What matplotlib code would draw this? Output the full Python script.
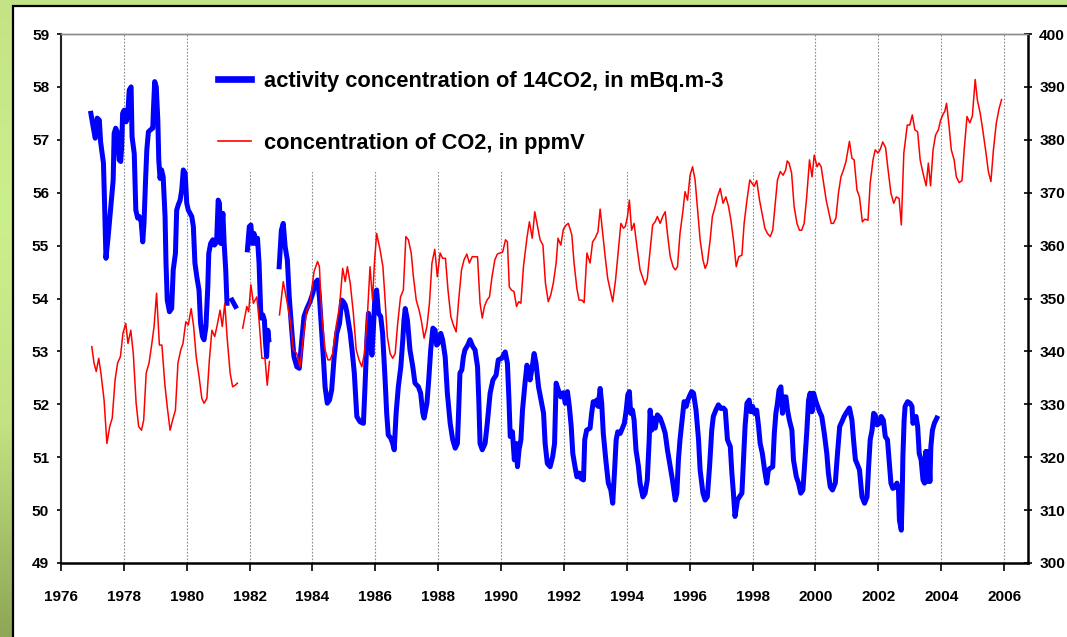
import numpy as np
import matplotlib
matplotlib.use('Agg')
import matplotlib.pyplot as plt
from matplotlib import font_manager
from matplotlib.patches import Rectangle
from matplotlib.colors import LinearSegmentedColormap

nan = np.nan

# 14CO2 activity concentration (mBq.m-3). nan = gap in the record
c14_year = [
    1976.95, 1977.03, 1977.09, 1977.15, 1977.22, 1977.26, 1977.35, 1977.38, 1977.43, 1977.50,
    1977.61, 1977.66, 1977.69, 1977.74, 1977.79, 1977.85, 1977.90, 1977.93, 1977.96, 1978.01,
    1978.07, 1978.12, 1978.17, 1978.23, 1978.26, 1978.33, 1978.38, 1978.44, 1978.49, 1978.55,
    1978.60, 1978.64, 1978.69, 1978.73, 1978.78, 1978.85, 1978.92, 1978.94, 1978.98, 1979.03,
    1979.08, 1979.11, 1979.15, 1979.20, 1979.25, 1979.31, 1979.34, 1979.38, 1979.45, 1979.52,
    1979.57, 1979.64, 1979.68, 1979.73, 1979.79, 1979.84, 1979.89, 1979.95, 1980.00, 1980.05,
    1980.16, 1980.21, 1980.26, 1980.32, 1980.39, 1980.44, 1980.50, 1980.55, 1980.61, 1980.67,
    1980.70, 1980.76, 1980.83, 1980.88, 1980.95, 1981.00, 1981.04, 1981.08, 1981.15, 1981.19,
    1981.24, 1981.28, 1981.36, 1981.44, 1981.55, 1981.70,
    1981.93, 1981.99, 1982.04, 1982.09, 1982.14, 1982.19, 1982.25, 1982.30, 1982.33, 1982.36,
    1982.42, 1982.47, 1982.50, 1982.54, 1982.58, 1982.61, 1982.80,
    1982.94, 1983.01, 1983.07, 1983.13, 1983.20, 1983.26, 1983.34, 1983.41, 1983.50, 1983.58,
    1983.66, 1983.73, 1983.82, 1983.92, 1984.01, 1984.08, 1984.16, 1984.22, 1984.29, 1984.35,
    1984.40, 1984.47, 1984.54, 1984.61, 1984.69, 1984.77, 1984.86, 1984.93, 1984.98, 1985.04,
    1985.09, 1985.20, 1985.27, 1985.33, 1985.41, 1985.51, 1985.62, 1985.67, 1985.73, 1985.78,
    1985.83, 1985.89, 1985.94, 1985.99, 1986.04, 1986.10, 1986.17, 1986.23, 1986.31, 1986.36,
    1986.41, 1986.49, 1986.55, 1986.60, 1986.66, 1986.73, 1986.81, 1986.87, 1986.91, 1986.95,
    1987.02, 1987.10, 1987.19, 1987.26, 1987.37, 1987.44, 1987.51, 1987.55, 1987.64, 1987.69,
    1987.76, 1987.83, 1987.90, 1987.95, 1988.00, 1988.08, 1988.14, 1988.22, 1988.29, 1988.38,
    1988.46, 1988.54, 1988.61, 1988.65, 1988.69, 1988.75, 1988.80, 1988.85, 1988.94, 1989.01,
    1989.10, 1989.17, 1989.25, 1989.29, 1989.33, 1989.40, 1989.49, 1989.56, 1989.65, 1989.74,
    1989.84, 1989.91, 1990.02, 1990.13, 1990.20, 1990.25, 1990.29, 1990.36, 1990.42, 1990.48,
    1990.52, 1990.57, 1990.63, 1990.68, 1990.76, 1990.82, 1990.88, 1990.92, 1990.99, 1991.05,
    1991.11, 1991.19, 1991.26, 1991.35, 1991.40, 1991.47, 1991.56, 1991.64, 1991.70, 1991.75,
    1991.82, 1991.90, 1991.98, 1992.04, 1992.11, 1992.17, 1992.23, 1992.28, 1992.35, 1992.41,
    1992.49, 1992.54, 1992.62, 1992.66, 1992.72, 1992.83, 1992.88, 1992.93, 1992.99, 1993.04,
    1993.09, 1993.15, 1993.20, 1993.25, 1993.33, 1993.41, 1993.49, 1993.55, 1993.61, 1993.66,
    1993.71, 1993.79, 1993.86, 1993.92, 1993.98, 1994.03, 1994.08, 1994.12, 1994.18, 1994.23,
    1994.29, 1994.37, 1994.42, 1994.51, 1994.58, 1994.65, 1994.71, 1994.74, 1994.79, 1994.84,
    1994.90, 1994.97, 1995.06, 1995.14, 1995.22, 1995.29, 1995.38, 1995.45, 1995.54, 1995.59,
    1995.64, 1995.69, 1995.77, 1995.82, 1995.89, 1995.94, 1996.01, 1996.06, 1996.12, 1996.20,
    1996.28, 1996.33, 1996.42, 1996.49, 1996.56, 1996.63, 1996.70, 1996.75, 1996.83, 1996.91,
    1996.99, 1997.07, 1997.13, 1997.20, 1997.29, 1997.34, 1997.39, 1997.44, 1997.52, 1997.58,
    1997.66, 1997.71, 1997.76, 1997.82, 1997.89, 1997.94, 1998.00, 1998.06, 1998.13, 1998.19,
    1998.24, 1998.31, 1998.38, 1998.45, 1998.50, 1998.56, 1998.64, 1998.69, 1998.74, 1998.79,
    1998.84, 1998.90, 1998.95, 1999.00, 1999.06, 1999.11, 1999.17, 1999.25, 1999.30, 1999.39,
    1999.46, 1999.53, 1999.60, 1999.65, 1999.72, 1999.78, 1999.83, 1999.89, 1999.94, 2000.00,
    2000.05, 2000.13, 2000.20, 2000.28, 2000.36, 2000.41, 2000.47, 2000.54, 2000.63, 2000.70,
    2000.77, 2000.84, 2000.91, 2001.00, 2001.08, 2001.16, 2001.21, 2001.27, 2001.32, 2001.40,
    2001.48, 2001.56, 2001.64, 2001.69, 2001.74, 2001.80, 2001.85, 2001.90, 2001.96, 2002.03,
    2002.09, 2002.16, 2002.22, 2002.29, 2002.34, 2002.40, 2002.46, 2002.54, 2002.59, 2002.64,
    2002.67, 2002.73, 2002.76, 2002.78, 2002.82, 2002.85, 2002.93, 2003.01, 2003.07, 2003.10,
    2003.15, 2003.20, 2003.25, 2003.30, 2003.36, 2003.42, 2003.47, 2003.51, 2003.55, 2003.60,
    2003.64, 2003.67, 2003.72, 2003.78, 2003.86,
]
c14_act = [
    57.50, 57.22, 57.03, 57.41, 57.37, 56.96, 56.56, 55.92, 54.76, 55.17,
    55.92, 56.24, 57.12, 57.22, 57.15, 56.62, 56.59, 56.87, 57.50, 57.56,
    57.34, 57.44, 57.94, 58.00, 57.06, 56.74, 55.67, 55.52, 55.55, 55.45,
    55.07, 55.42, 56.24, 56.81, 57.15, 57.19, 57.22, 57.56, 58.10, 58.00,
    57.37, 56.62, 56.27, 56.43, 56.30, 55.55, 54.67, 53.97, 53.75, 53.81,
    54.54, 54.85, 55.67, 55.77, 55.86, 56.05, 56.43, 56.37, 55.80, 55.67,
    55.55, 55.36, 54.67, 54.41, 54.16, 53.53, 53.28, 53.22, 53.47, 54.22,
    54.85, 55.04, 55.11, 55.01, 55.07, 55.86, 55.80, 55.04, 55.61, 55.04,
    54.54, 53.91, nan, 53.97, 53.85, nan,
    54.92, 55.36, 55.39, 55.04, 55.23, 55.04, 55.14, 54.67, 54.16, 53.63,
    53.69, 53.59, 53.22, 52.90, 53.40, 53.22, nan,
    54.60, 55.29, 55.42, 54.98, 54.73, 54.03, 53.40, 52.90, 52.71, 52.68,
    53.22, 53.66, 53.81, 53.94, 54.10, 54.29, 54.35, 54.03, 53.40, 52.84,
    52.33, 52.02, 52.08, 52.27, 52.90, 53.34, 53.53, 53.97, 53.94, 53.88,
    53.75, 53.34, 52.96, 52.59, 51.77, 51.67, 51.64, 52.33, 53.22, 53.72,
    53.53, 52.93, 53.47, 54.10, 54.16, 53.72, 53.66, 53.34, 52.46, 51.83,
    51.42, 51.36, 51.26, 51.14, 51.83, 52.33, 52.71, 53.20, 53.59, 53.81,
    53.59, 53.03, 52.71, 52.40, 52.33, 52.21, 51.83, 51.74, 52.02, 52.40,
    53.03, 53.44, 53.40, 53.12, 53.15, 53.34, 53.22, 52.90, 52.21, 51.64,
    51.33, 51.17, 51.26, 51.89, 52.59, 52.65, 52.90, 53.03, 53.12, 53.22,
    53.09, 53.03, 52.71, 52.08, 51.26, 51.14, 51.26, 51.64, 52.21, 52.46,
    52.55, 52.84, 52.87, 52.99, 52.78, 52.08, 51.39, 51.48, 50.95, 51.26,
    50.82, 51.14, 51.33, 51.89, 52.40, 52.74, 52.65, 52.46, 52.71, 52.96,
    52.78, 52.33, 52.11, 51.83, 51.26, 50.88, 50.82, 51.01, 51.26, 52.40,
    52.27, 52.14, 52.22, 52.02, 52.24, 51.96, 51.58, 51.07, 50.82, 50.63,
    50.70, 50.60, 50.57, 51.33, 51.51, 51.55, 51.83, 52.05, 51.99, 52.08,
    51.96, 52.30, 52.02, 51.45, 50.95, 50.51, 50.38, 50.13, 50.76, 51.33,
    51.48, 51.45, 51.55, 51.64, 51.89, 52.18, 52.24, 51.83, 51.89, 51.70,
    51.14, 50.82, 50.51, 50.25, 50.32, 50.57, 51.33, 51.89, 51.51, 51.74,
    51.55, 51.80, 51.74, 51.61, 51.45, 51.14, 50.82, 50.57, 50.19, 50.32,
    50.95, 51.33, 51.77, 52.05, 51.96, 52.08, 52.18, 52.24, 52.21, 51.89,
    51.33, 50.76, 50.32, 50.19, 50.25, 50.82, 51.51, 51.77, 51.89, 51.99,
    51.92, 51.93, 51.89, 51.33, 51.20, 50.70, 50.32, 49.88, 50.19, 50.25,
    50.32, 50.95, 51.58, 52.02, 52.08, 51.86, 51.96, 51.83, 51.89, 51.58,
    51.26, 51.07, 50.76, 50.51, 50.76, 50.79, 50.82, 51.45, 51.83, 52.02,
    52.27, 52.33, 51.83, 52.14, 52.14, 51.89, 51.70, 51.51, 50.95, 50.63,
    50.51, 50.32, 50.38, 50.82, 51.45, 52.08, 52.21, 51.86, 52.21, 52.08,
    51.99, 51.86, 51.77, 51.45, 51.07, 50.70, 50.44, 50.38, 50.51, 51.07,
    51.58, 51.67, 51.77, 51.86, 51.93, 51.70, 51.33, 50.95, 50.88, 50.76,
    50.25, 50.13, 50.25, 50.82, 51.33, 51.51, 51.83, 51.80, 51.61, 51.64,
    51.77, 51.70, 51.39, 51.33, 50.95, 50.51, 50.41, 50.44, 50.51, 50.38,
    49.81, 49.62, 50.32, 51.01, 51.70, 51.96, 52.05, 52.02, 51.96, 51.64,
    51.74, 51.77, 51.58, 51.07, 50.95, 50.57, 50.51, 51.11, 50.54, 51.11,
    50.54, 51.20, 51.51, 51.64, 51.74,
]

# CO2 concentration (ppmV), right axis
co2_year = [
    1976.98, 1977.05, 1977.12, 1977.20, 1977.27, 1977.37, 1977.46, 1977.55, 1977.63, 1977.72,
    1977.80, 1977.89, 1977.97, 1978.06, 1978.13, 1978.22, 1978.30, 1978.39, 1978.47, 1978.56,
    1978.63, 1978.71, 1978.80, 1978.89, 1978.96, 1979.04, 1979.13, 1979.21, 1979.30, 1979.38,
    1979.47, 1979.55, 1979.64, 1979.72, 1979.81, 1979.88, 1979.97, 1980.05, 1980.14, 1980.22,
    1980.30, 1980.39, 1980.48, 1980.55, 1980.64, 1980.72, 1980.80, 1980.89, 1980.97, 1981.06,
    1981.13, 1981.21, 1981.29, 1981.38, 1981.46, 1981.54, 1981.61, 1981.70,
    1981.78, 1981.91, 1981.97, 1982.04, 1982.12, 1982.23, 1982.30, 1982.39, 1982.49, 1982.56,
    1982.63, 1982.80,
    1982.95, 1983.07, 1983.18, 1983.29, 1983.39, 1983.50, 1983.60, 1983.71, 1983.82, 1983.92,
    1984.05, 1984.16, 1984.22, 1984.29, 1984.40, 1984.49, 1984.56, 1984.64, 1984.75, 1984.86,
    1984.96, 1985.04, 1985.11, 1985.20, 1985.30, 1985.39, 1985.48, 1985.57, 1985.65, 1985.75,
    1985.83, 1985.91, 1985.97, 1986.04, 1986.15, 1986.24, 1986.31, 1986.38, 1986.47, 1986.55,
    1986.63, 1986.71, 1986.80, 1986.89, 1986.97, 1987.05, 1987.14, 1987.21, 1987.30, 1987.39,
    1987.46, 1987.55, 1987.64, 1987.72, 1987.80, 1987.89, 1987.97, 1988.06, 1988.14, 1988.23,
    1988.31, 1988.40, 1988.48, 1988.57, 1988.65, 1988.74, 1988.82, 1988.91, 1988.99, 1989.08,
    1989.17, 1989.25, 1989.33, 1989.40, 1989.47, 1989.55, 1989.63, 1989.71, 1989.80, 1989.88,
    1989.97, 1990.05, 1990.14, 1990.20, 1990.26, 1990.33, 1990.41, 1990.49, 1990.56, 1990.63,
    1990.71, 1990.82, 1990.90, 1990.99, 1991.07, 1991.16, 1991.24, 1991.33, 1991.41, 1991.50,
    1991.58, 1991.66, 1991.75, 1991.81, 1991.90, 1991.98, 1992.07, 1992.14, 1992.25, 1992.32,
    1992.41, 1992.48, 1992.57, 1992.64, 1992.73, 1992.83, 1992.91, 1992.99, 1993.08, 1993.15,
    1993.23, 1993.31, 1993.39, 1993.47, 1993.55, 1993.64, 1993.72, 1993.81, 1993.89, 1993.95,
    1994.02, 1994.08, 1994.15, 1994.23, 1994.32, 1994.42, 1994.51, 1994.58, 1994.65, 1994.74,
    1994.82, 1994.90, 1994.97, 1995.06, 1995.14, 1995.22, 1995.29, 1995.38, 1995.47, 1995.54,
    1995.61, 1995.69, 1995.78, 1995.85, 1995.93, 1996.01, 1996.09, 1996.17, 1996.24, 1996.33,
    1996.42, 1996.49, 1996.56, 1996.65, 1996.72, 1996.81, 1996.88, 1996.97, 1997.06, 1997.15,
    1997.23, 1997.31, 1997.39, 1997.48, 1997.56, 1997.66, 1997.73, 1997.82, 1997.91, 1997.98,
    1998.05, 1998.13, 1998.22, 1998.30, 1998.39, 1998.47, 1998.56, 1998.64, 1998.72, 1998.79,
    1998.88, 1998.97, 1999.05, 1999.10, 1999.16, 1999.24, 1999.32, 1999.41, 1999.49, 1999.56,
    1999.64, 1999.72, 1999.81, 1999.89, 1999.96, 2000.05, 2000.11, 2000.18, 2000.26, 2000.34,
    2000.43, 2000.50, 2000.57, 2000.65, 2000.73, 2000.81, 2000.89, 2000.97, 2001.08, 2001.16,
    2001.23, 2001.32, 2001.40, 2001.49, 2001.57, 2001.67, 2001.74, 2001.83, 2001.90, 2001.99,
    2002.06, 2002.14, 2002.23, 2002.31, 2002.40, 2002.49, 2002.57, 2002.66, 2002.73, 2002.81,
    2002.92, 2003.00, 2003.08, 2003.16, 2003.25, 2003.33, 2003.42, 2003.52, 2003.59, 2003.66,
    2003.74, 2003.82, 2003.91, 2003.98, 2004.07, 2004.11, 2004.17, 2004.25, 2004.32, 2004.41,
    2004.48, 2004.57, 2004.66, 2004.73, 2004.82, 2004.91, 2004.99, 2005.08, 2005.15, 2005.24,
    2005.32, 2005.41, 2005.50, 2005.58, 2005.66, 2005.75, 2005.84, 2005.92,
]
co2_ppm = [
    340.9, 337.8, 336.2, 338.7, 335.9, 330.8, 322.6, 325.8, 327.4, 334.6,
    337.8, 339.0, 343.4, 345.3, 341.5, 344.0, 339.6, 330.2, 325.8, 325.1,
    327.0, 335.9, 337.8, 341.5, 344.7, 351.0, 341.2, 341.2, 334.0, 329.5,
    325.1, 327.0, 328.9, 337.8, 340.3, 341.5, 345.6, 345.0, 348.1, 344.7,
    339.0, 335.3, 331.1, 330.2, 331.1, 338.4, 344.0, 342.8, 345.0, 347.8,
    344.7, 349.1, 342.2, 335.9, 333.3, 333.6, 334.0, nan,
    344.4, 348.5, 347.5, 352.6, 349.1, 350.3, 345.9, 338.7, 338.7, 333.6,
    338.1, nan,
    346.9, 353.2, 349.7, 345.9, 340.3, 339.6, 337.1, 342.8, 347.8, 349.1,
    355.1, 357.0, 356.0, 347.2, 340.3, 338.4, 338.4, 339.6, 344.7, 348.5,
    355.7, 353.2, 356.0, 352.9, 347.2, 340.3, 338.4, 337.1, 339.6, 347.2,
    356.0, 349.7, 356.7, 362.3, 359.2, 356.0, 349.7, 342.8, 339.6, 338.7,
    339.6, 345.3, 350.3, 351.6, 361.7, 361.1, 358.6, 354.1, 349.7, 347.8,
    345.9, 342.5, 344.7, 349.1, 356.7, 359.3, 354.1, 358.6, 357.6, 357.6,
    351.6, 346.6, 345.0, 343.7, 349.7, 355.4, 357.3, 358.4, 356.7, 357.9,
    357.9, 357.9, 349.1, 346.3, 348.5, 349.7, 350.3, 354.1, 357.3, 358.4,
    358.6, 358.8, 361.1, 360.7, 352.2, 351.6, 351.3, 348.5, 349.4, 349.1,
    356.0, 361.4, 364.5, 361.4, 366.4, 363.6, 361.1, 360.1, 352.9, 349.4,
    350.7, 352.9, 356.7, 361.4, 360.1, 363.1, 363.9, 364.2, 362.0, 356.7,
    351.9, 349.7, 349.7, 349.2, 358.6, 356.7, 360.7, 361.4, 362.6, 366.9,
    362.3, 357.9, 353.8, 351.6, 349.4, 353.5, 358.6, 364.2, 363.3, 363.6,
    365.5, 368.6, 362.9, 364.2, 359.8, 355.4, 353.8, 352.6, 353.8, 359.2,
    363.9, 364.5, 365.5, 364.2, 365.5, 366.4, 362.3, 357.9, 356.0, 355.4,
    356.0, 362.3, 366.4, 370.2, 368.6, 373.3, 374.9, 372.4, 367.4, 361.1,
    357.3, 355.7, 356.7, 361.1, 365.5, 367.4, 369.2, 370.8, 368.0, 369.2,
    367.5, 364.8, 361.1, 356.0, 357.9, 358.2, 364.2, 368.6, 372.4, 371.8,
    371.2, 372.3, 368.6, 366.1, 363.3, 362.3, 361.7, 362.9, 368.0, 372.4,
    374.0, 373.3, 374.3, 376.0, 375.6, 373.7, 367.4, 364.2, 362.9, 362.9,
    364.2, 369.2, 376.2, 373.0, 377.1, 374.9, 375.6, 374.9, 371.8, 368.6,
    366.1, 364.2, 364.2, 365.2, 369.9, 373.0, 374.3, 375.9, 379.7, 376.5,
    376.2, 370.5, 369.2, 364.5, 365.0, 364.8, 371.8, 376.2, 378.1, 377.5,
    378.2, 379.6, 378.5, 374.3, 369.9, 368.0, 369.2, 368.9, 363.9, 377.5,
    382.8, 382.8, 384.7, 381.9, 381.5, 376.2, 373.7, 371.3, 375.6, 371.3,
    378.1, 380.9, 381.9, 383.7, 385.0, 385.3, 386.9, 382.5, 378.1, 376.2,
    373.0, 371.9, 372.3, 378.1, 384.4, 383.2, 384.5, 391.4, 387.5, 385.0,
    381.9, 378.1, 374.0, 372.1, 378.1, 383.1, 385.9, 387.6,
]

year_ticks = list(range(1976, 2007, 2))
left_ticks = list(range(49, 60))
right_ticks = list(range(300, 401, 10))

label_c14 = 'activity concentration of 14CO2, in mBq.m-3'
label_co2 = 'concentration of CO2, in ppmV'

# the original uses a squeezed bold Arial, so take the narrow face if it is there
try:
    font_manager.findfont('Liberation Sans Narrow', fallback_to_default=False)
    fam = 'Liberation Sans Narrow'
    k = 1.0
except ValueError:
    fam = 'Liberation Sans'
    k = 0.82
plt.rcParams['font.family'] = [fam, 'DejaVu Sans']
plt.rcParams['font.weight'] = 'bold'

W, H = 1067, 637
fig = plt.figure(figsize=(W / 100, H / 100), dpi=100)

# green slide background and white panel
bg = fig.add_axes([0, 0, 1, 1], zorder=-10)
green = LinearSegmentedColormap.from_list('slide', ['#c4e385', '#ccef8d', '#c3e283', '#8ea655'])
bg.imshow(np.linspace(0, 1, 256).reshape(-1, 1), cmap=green, aspect='auto', extent=[0, 1, 0, 1])
bg.axis('off')
fig.add_artist(Rectangle((13 / W, -0.05), 1.1, 1.05 - 6 / H, transform=fig.transFigure,
                         facecolor='white', edgecolor='black', lw=1.6, zorder=-5))

ax = fig.add_axes([61 / W, 1 - 563 / H, 967 / W, 529 / H])
ax2 = ax.twinx()

l1, = ax.plot(c14_year, c14_act, color='#0000ff', lw=3.6, solid_joinstyle='round', zorder=3)
l2, = ax2.plot(co2_year, co2_ppm, color='#ff0000', lw=1.1)

ax.set_xlim(1976, 2006.76)
ax.set_ylim(49, 59)
ax2.set_ylim(300, 400)
ax.set_xticks(year_ticks)
ax.set_yticks(left_ticks)
ax2.set_yticks(right_ticks)

ax.grid(axis='x', color='#8c8c8c', lw=0.8, ls=(0, (1.5, 1.5)))
ax.set_axisbelow(True)
# white area behind the legend hides the grid there
ax.add_patch(Rectangle((0.149, 0.739), 0.605, 0.27, transform=ax.transAxes,
                       facecolor='white', edgecolor='none', zorder=1))

for a in (ax, ax2):
    a.spines['top'].set_color('#8a8a8a')
    a.spines['top'].set_linewidth(1.0)
ax.spines['right'].set_visible(False)
ax2.spines['left'].set_visible(False)
ax2.spines['bottom'].set_visible(False)
ax.spines['left'].set_linewidth(1.5)
ax.spines['left'].set_color('#222222')
ax.spines['bottom'].set_linewidth(1.8)
ax2.spines['right'].set_linewidth(1.8)

fs = 13.5 * k
ax.tick_params(axis='x', direction='out', length=6, width=1.2, pad=13.5, labelsize=fs)
ax.tick_params(axis='y', direction='out', length=3, width=1.2, pad=5.5, labelsize=fs)
ax2.tick_params(axis='y', direction='inout', length=6, width=1.2, pad=5, labelsize=fs)

leg = ax2.legend([l1, l2], [label_c14, label_co2], loc='upper left',
                 bbox_to_anchor=(218 / W, 1 - 71 / H), bbox_transform=fig.transFigure,
                 frameon=False, prop={'size': 19.2 * k, 'weight': 'bold'},
                 handlelength=1.5, handletextpad=0.62, labelspacing=1.86,
                 borderpad=0, borderaxespad=0)
leg.get_lines()[0].set_linewidth(4.8)
leg.get_lines()[1].set_linewidth(1.2)

fig.savefig('out.png', dpi=100)
